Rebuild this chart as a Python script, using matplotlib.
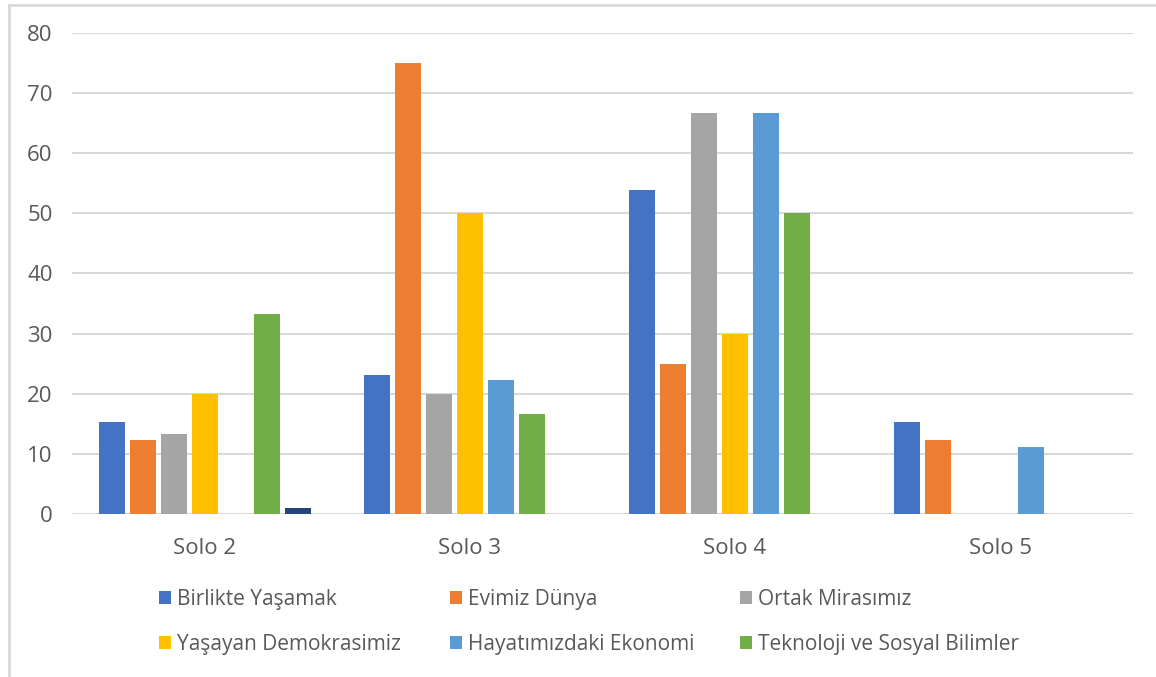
import matplotlib.pyplot as plt
import matplotlib.lines as mlines
import numpy as np

plt.rcParams['font.family'] = ['Open Sans', 'DejaVu Sans']

groups = ['Solo 2', 'Solo 3', 'Solo 4', 'Solo 5']

series_names = ['Birlikte Yaşamak', 'Evimiz Dünya', 'Ortak Mirasımız',
                'Yaşayan Demokrasimiz', 'Hayatımızdaki Ekonomi',
                'Teknoloji ve Sosyal Bilimler', '']

birlikte = [15.38, 23.08, 53.85, 15.38]
evimiz = [12.3, 75.0, 25.0, 12.3]
ortak = [13.33, 20.0, 66.67, 0]
yasayan = [20.0, 50.0, 30.0, 0]
hayat = [0, 22.22, 66.67, 11.11]
teknoloji = [33.33, 16.67, 50.0, 0]
diger = [1.0, 0, 0, 0]

values = [birlikte, evimiz, ortak, yasayan, hayat, teknoloji, diger]
colors = ['#4472C4', '#ED7D31', '#A5A5A5', '#FFC000', '#5B9BD5', '#70AD47', '#264478']

fig = plt.figure(figsize=(11.56, 6.77), dpi=100)
ax = fig.add_axes([0.0623, 0.2408, 0.9177, 0.7105])

x = np.arange(len(groups))
slot = 0.117
width = 0.098
handles = []
for i, (vals, c) in enumerate(zip(values, colors)):
    b = ax.bar(x + (i - 3) * slot, vals, width, color=c, zorder=3)
    handles.append(b)

ax.set_xlim(-0.5, 3.5)
ax.set_ylim(0, 80)
ax.set_yticks(range(0, 81, 10))
ax.set_xticks(x)
ax.set_xticklabels(groups)
ax.yaxis.grid(True, color='#D9D9D9', linewidth=1.5, zorder=0)
ax.tick_params(axis='both', length=0, labelsize=16, labelcolor='#595959')
ax.tick_params(axis='y', pad=14)
ax.tick_params(axis='x', pad=17)
for s in ax.spines.values():
    s.set_visible(False)

# legend: three columns, two rows, columns placed at fixed x
col_x = [159, 450, 740]
for col in range(3):
    idx = [col, col + 3]
    leg = fig.legend([handles[i] for i in idx], [series_names[i] for i in idx],
                     loc='center left', bbox_to_anchor=(col_x[col] / 1156, 1 - 622 / 677),
                     frameon=False, fontsize=15, handlelength=0.58, handleheight=0.58,
                     handletextpad=0.3, labelspacing=1.15, borderpad=0, borderaxespad=0)
    for t in leg.get_texts():
        t.set_color('#595959')

# frame: only top and left edges show in the reference
fig.add_artist(mlines.Line2D([9 / 1156, 1], [1 - 4.5 / 677, 1 - 4.5 / 677],
                             transform=fig.transFigure, color='#D9D9D9', linewidth=2))
fig.add_artist(mlines.Line2D([9 / 1156, 9 / 1156], [0, 1 - 4.5 / 677],
                             transform=fig.transFigure, color='#D9D9D9', linewidth=2))

fig.savefig('out.png', dpi=100)
